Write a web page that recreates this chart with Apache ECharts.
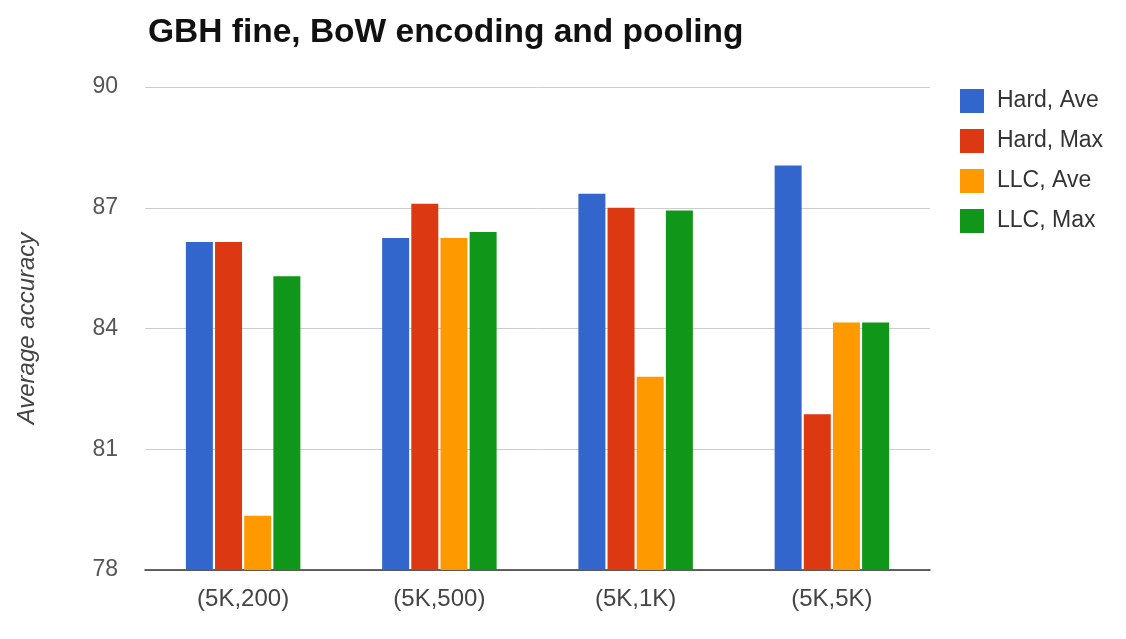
<!DOCTYPE html>
<html>
<head>
<meta charset="utf-8">
<script src="https://cdn.jsdelivr.net/npm/echarts@6/dist/echarts.min.js"></script>
<style>
  html, body { margin: 0; padding: 0; background: #fff; }
  #chart { width: 1126px; height: 639px; }
</style>
</head>
<body>
<div id="chart"></div>
<script>
// Average accuracy for each vocabulary configuration
const categories = ['(5K,200)', '(5K,500)', '(5K,1K)', '(5K,5K)'];
const hardAve = [86.15, 86.25, 87.35, 88.05];
const hardMax = [86.15, 87.1, 87.0, 81.87];
const llcAve = [79.35, 86.25, 82.8, 84.15];
const llcMax = [85.3, 86.4, 86.93, 84.15];
const yTicks = [78, 81, 84, 87, 90];

const seriesNames = ['Hard, Ave', 'Hard, Max', 'LLC, Ave', 'LLC, Max'];
const seriesData = [hardAve, hardMax, llcAve, llcMax];
const colors = ['#3366cc', '#dc3912', '#ff9900', '#109618'];

const chart = echarts.init(document.getElementById('chart'));
const font = '"Liberation Sans", Arial, sans-serif';

chart.setOption({
  animation: false,
  color: colors,
  textStyle: { fontFamily: font },
  title: {
    text: 'GBH fine, BoW encoding and pooling',
    left: 143,
    top: 11,
    textStyle: { fontFamily: font, fontSize: 33.5, fontWeight: 'bold', color: '#111' }
  },
  legend: {
    orient: 'vertical',
    left: 955,
    top: 84,
    itemWidth: 24,
    itemHeight: 24,
    itemGap: 16,
    icon: 'rect',
    textStyle: { fontFamily: font, fontSize: 23, color: '#333', padding: [0, 0, 0, 8] },
    data: seriesNames
  },
  grid: { left: 145, right: 196, top: 87, bottom: 69 },
  xAxis: {
    type: 'category',
    data: categories,
    axisLine: { lineStyle: { color: '#333', width: 1.5 } },
    axisTick: { show: false },
    axisLabel: { fontFamily: font, fontSize: 24, color: '#444', margin: 17 }
  },
  yAxis: {
    type: 'value',
    min: yTicks[0],
    max: yTicks[yTicks.length - 1],
    interval: 3,
    name: 'Average accuracy',
    nameLocation: 'middle',
    nameGap: 106,
    nameTextStyle: { fontFamily: font, fontSize: 24, fontStyle: 'italic', color: '#444' },
    axisLine: { show: false },
    axisTick: { show: false },
    axisLabel: { fontFamily: font, fontSize: 23, color: '#555', margin: 27,
      formatter: v => yTicks.includes(v) ? String(v) : '' },
    splitLine: { lineStyle: { color: '#cccccc', width: 1 } }
  },
  series: seriesNames.map((name, i) => ({
    name,
    type: 'bar',
    data: seriesData[i],
    barWidth: 27,
    barGap: '8%',
    itemStyle: { color: colors[i] }
  }))
});
</script>
</body>
</html>
